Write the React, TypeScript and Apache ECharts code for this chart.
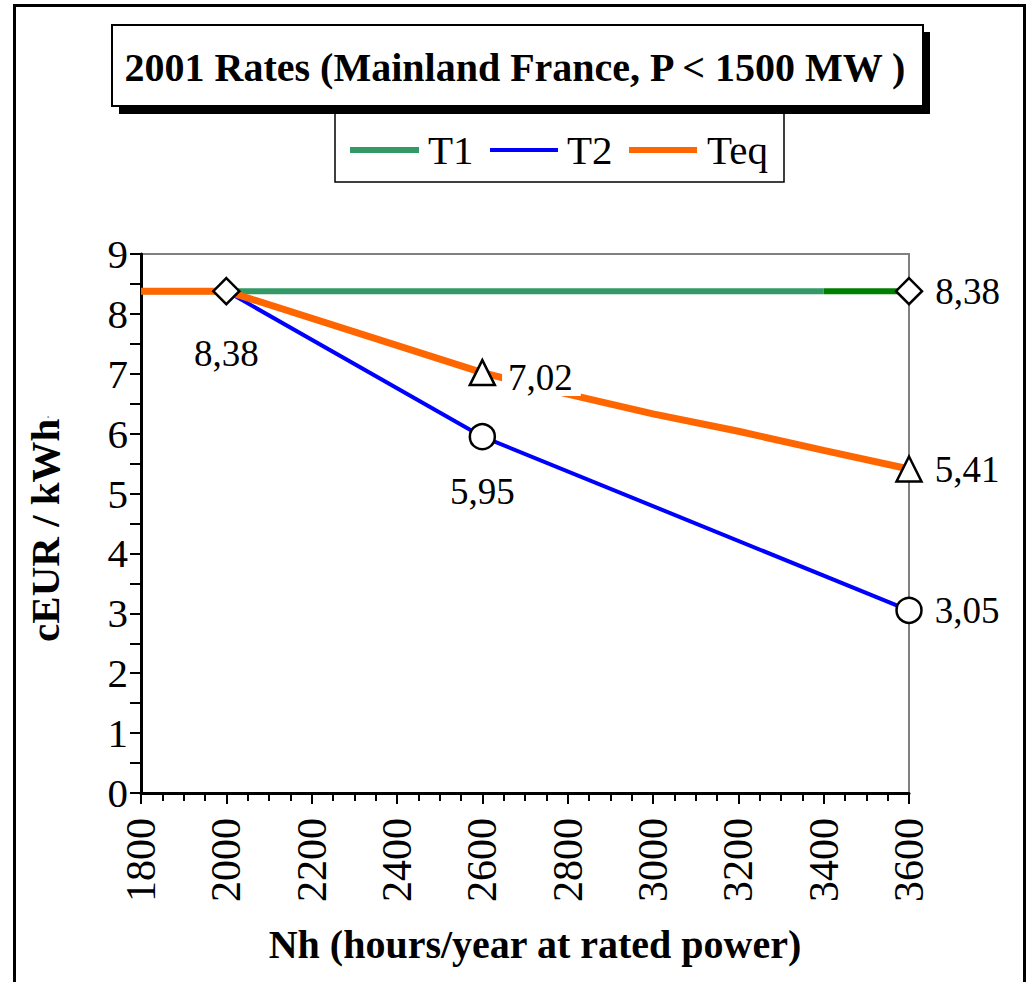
import React, { useEffect, useRef } from "react";
import * as echarts from "echarts";

const titleText = "2001 Rates (Mainland France, P < 1500 MW )";
const xName = "Nh (hours/year at rated power)";
const yName = "cEUR / kWh";

const t1X = [1800, 2000, 3400];
const t1Y = [8.38, 8.38, 8.38];
const t1DarkX = [3400, 3600];
const t1DarkY = [8.38, 8.38];
const t2X = [2000, 2600, 3600];
const t2Y = [8.38, 5.95, 3.05];
const teqX = [1800, 2000, 2600, 2800, 3000, 3200, 3400, 3600];
const teqY = [8.38, 8.38, 7.02, 6.66, 6.33, 6.04, 5.72, 5.41];

const diamondPts = [[2000, 8.38], [3600, 8.38]];
const circlePts = [[2600, 5.95], [3600, 3.05]];
const trianglePts = [[2600, 7.02], [3600, 5.41]];

const FONT = "Liberation Serif";
const GREEN = "#339966";
const DARKGREEN = "#008000";
const BLUE = "#0000FF";
const ORANGE = "#FF6600";

const zip = (xs: number[], ys: number[]) => xs.map((x, i) => [x, ys[i]]);
const fmt = (v: number) => v.toFixed(2).replace(".", ",");

export default function App() {
  const ref = useRef<HTMLDivElement>(null);
  useEffect(() => {
    if (!ref.current) return;
    const chart = echarts.init(ref.current, null, { renderer: "svg" });
    const labelBase = {
      show: true,
      fontFamily: FONT,
      fontSize: 37,
      color: "#000",
      formatter: (p: any) => fmt(p.value[1]),
    };
    const markerStyle = { color: "#fff", borderColor: "#000", borderWidth: 2.5, opacity: 1 };
    chart.setOption({
      animation: false,
      backgroundColor: "#fff",
      grid: {
        left: 141,
        top: 254,
        width: 768,
        height: 539,
        show: true,
        borderColor: "#808080",
        borderWidth: 2,
        backgroundColor: "transparent",
      },
      xAxis: {
        type: "value",
        min: 1800,
        max: 3600,
        interval: 200,
        name: xName,
        nameLocation: "middle",
        nameGap: 131,
        nameTextStyle: {
          fontFamily: FONT,
          fontSize: 40,
          fontWeight: "bold",
          color: "#000",
          padding: [0, 0, 0, 20],
        },
        axisLine: { show: true, onZero: false, lineStyle: { color: "#000", width: 3 } },
        axisTick: { show: true, length: 11, lineStyle: { color: "#000", width: 2 } },
        minorTick: { show: true, splitNumber: 4, length: 8, lineStyle: { color: "#000", width: 2 } },
        splitLine: { show: false },
        axisLabel: {
          rotate: 90,
          margin: 25,
          fontFamily: FONT,
          fontSize: 42,
          color: "#000",
          formatter: (v: number) => String(v),
        },
      },
      yAxis: {
        type: "value",
        min: 0,
        max: 9,
        interval: 1,
        name: yName + "{b|.}",
        nameLocation: "middle",
        nameGap: 76,
        nameRotate: 90,
        nameTextStyle: {
          fontFamily: FONT,
          fontSize: 41,
          fontWeight: "bold",
          color: "#000",
          padding: [0, 10, 0, 0],
          rich: { b: { fontFamily: FONT, fontSize: 14, color: "#666", fontWeight: "normal" } },
        },
        axisLine: { show: true, lineStyle: { color: "#000", width: 3 } },
        axisTick: { show: true, length: 11, lineStyle: { color: "#000", width: 2 } },
        minorTick: { show: true, splitNumber: 2, length: 11, lineStyle: { color: "#000", width: 2 } },
        splitLine: { show: false },
        axisLabel: {
          margin: 13,
          fontFamily: FONT,
          fontSize: 41,
          color: "#000",
          formatter: (v: number) => String(v),
        },
      },
      series: [
        {
          name: "T1",
          type: "line",
          data: zip(t1X, t1Y),
          symbol: "none",
          clip: false,
          z: 2,
          lineStyle: { color: GREEN, width: 6 },
        },
        {
          name: "T1b",
          type: "line",
          data: zip(t1DarkX, t1DarkY),
          symbol: "none",
          clip: false,
          z: 2,
          lineStyle: { color: DARKGREEN, width: 6 },
        },
        {
          name: "T2",
          type: "line",
          data: zip(t2X, t2Y),
          symbol: "none",
          clip: false,
          z: 3,
          lineStyle: { color: BLUE, width: 4 },
        },
        {
          name: "Teq",
          type: "line",
          data: zip(teqX, teqY),
          symbol: "none",
          clip: false,
          z: 4,
          lineStyle: { color: ORANGE, width: 7 },
        },
        {
          name: "T1 points",
          type: "scatter",
          symbol: "diamond",
          symbolSize: 26,
          clip: false,
          z: 6,
          itemStyle: markerStyle,
          data: [
            { value: diamondPts[0], label: { ...labelBase, position: "bottom", distance: 30 } },
            { value: diamondPts[1], label: { ...labelBase, position: "right", distance: 12 } },
          ],
        },
        {
          name: "T2 points",
          type: "scatter",
          symbol: "circle",
          symbolSize: 25,
          clip: false,
          z: 6,
          itemStyle: markerStyle,
          data: [
            { value: circlePts[0], label: { ...labelBase, position: "bottom", distance: 23 } },
            { value: circlePts[1], label: { ...labelBase, position: "right", distance: 12 } },
          ],
        },
        {
          name: "Teq points",
          type: "scatter",
          symbol: "triangle",
          symbolSize: 25,
          clip: false,
          z: 6,
          itemStyle: markerStyle,
          data: [
            {
              value: trianglePts[0],
              label: {
                ...labelBase,
                position: "right",
                distance: 6,
                offset: [0, 5],
                backgroundColor: "#fff",
                padding: [0, 8, 0, 6],
              },
            },
            { value: trianglePts[1], label: { ...labelBase, position: "right", distance: 12 } },
          ],
        },
      ],
      graphic: [
        {
          type: "rect",
          shape: { x: 14.5, y: 5.5, width: 1010, height: 1000 },
          style: { fill: "none", stroke: "#000", lineWidth: 3 },
          z: 0,
          silent: true,
        },
        {
          type: "group",
          z: 10,
          children: [
            {
              type: "rect",
              shape: { x: 335, y: 113, width: 449, height: 69 },
              style: { fill: "#fff", stroke: "#000", lineWidth: 1.5 },
            },
            { type: "line", shape: { x1: 350, y1: 150, x2: 419, y2: 150 }, style: { stroke: GREEN, lineWidth: 6 } },
            {
              type: "text",
              x: 428,
              y: 150,
              style: { text: "T1", font: `41px "${FONT}"`, fill: "#000", verticalAlign: "middle", align: "left" },
            },
            { type: "line", shape: { x1: 490, y1: 150, x2: 558, y2: 150 }, style: { stroke: BLUE, lineWidth: 4 } },
            {
              type: "text",
              x: 567,
              y: 150,
              style: { text: "T2", font: `41px "${FONT}"`, fill: "#000", verticalAlign: "middle", align: "left" },
            },
            { type: "line", shape: { x1: 629, y1: 150, x2: 697, y2: 150 }, style: { stroke: ORANGE, lineWidth: 6 } },
            {
              type: "text",
              x: 707,
              y: 150,
              style: { text: "Teq", font: `41px "${FONT}"`, fill: "#000", verticalAlign: "middle", align: "left" },
            },
            {
              type: "rect",
              shape: { x: 119, y: 32, width: 811, height: 82 },
              style: { fill: "#000" },
            },
            {
              type: "rect",
              shape: { x: 112, y: 25, width: 811, height: 81 },
              style: { fill: "#fff", stroke: "#000", lineWidth: 2 },
            },
            {
              type: "text",
              x: 515,
              y: 67,
              style: {
                text: titleText,
                font: `bold 40px "${FONT}"`,
                fill: "#000",
                align: "center",
                verticalAlign: "middle",
              },
            },
          ],
        },
      ],
    });
    return () => chart.dispose();
  }, []);
  return (
    <div
      ref={ref}
      style={{ position: "absolute", left: 0, top: 0, width: 1027, height: 982, overflow: "hidden" }}
    />
  );
}
